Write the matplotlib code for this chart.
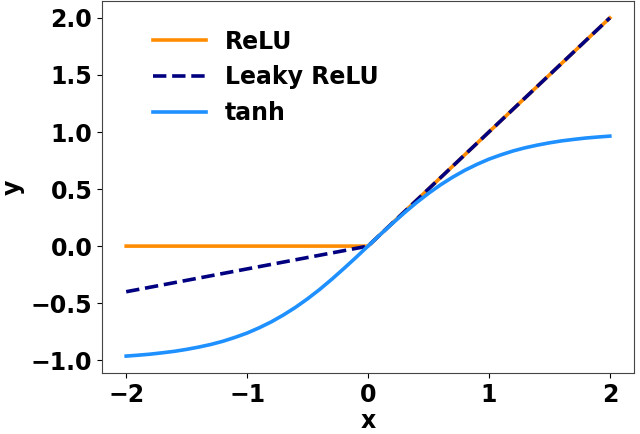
import numpy as np
from matplotlib import pyplot as plt

# ReLU and Leaky ReLU are straight pieces, so the corner points are enough
relu_x = [-2, 0, 2]
relu_y = [0, 0, 2]
leaky_x = [-2, 0, 2]
leaky_y = [-0.4, 0, 2]

# tanh every 0.1
tanh_x = [-2.0, -1.9, -1.8, -1.7, -1.6, -1.5, -1.4, -1.3, -1.2, -1.1,
          -1.0, -0.9, -0.8, -0.7, -0.6, -0.5, -0.4, -0.3, -0.2, -0.1,
          0.0, 0.1, 0.2, 0.3, 0.4, 0.5, 0.6, 0.7, 0.8, 0.9,
          1.0, 1.1, 1.2, 1.3, 1.4, 1.5, 1.6, 1.7, 1.8, 1.9, 2.0]
tanh_y = [-0.964, -0.956, -0.947, -0.935, -0.922, -0.905, -0.885, -0.862, -0.834, -0.800,
          -0.762, -0.716, -0.664, -0.604, -0.537, -0.462, -0.380, -0.291, -0.197, -0.100,
          0.0, 0.100, 0.197, 0.291, 0.380, 0.462, 0.537, 0.604, 0.664, 0.716,
          0.762, 0.800, 0.834, 0.862, 0.885, 0.905, 0.922, 0.935, 0.947, 0.956, 0.964]

plt.rcParams['font.family'] = ['DejaVu Sans']
plt.rcParams['font.weight'] = 'bold'
plt.rcParams['axes.labelweight'] = 'bold'

fig = plt.figure(figsize=(6.4, 4.34), dpi=100)
ax = fig.add_axes([102 / 640, 1 - 373 / 434, 532 / 640, 372 / 434])

ax.plot(relu_x, relu_y, color='darkorange', lw=2.6, label='ReLU')
ax.plot(leaky_x, leaky_y, color='navy', lw=2.6, ls='--', label='Leaky ReLU')
ax.plot(tanh_x, tanh_y, color='dodgerblue', lw=2.6, label='tanh')

ax.set_xlabel('x', fontsize=17, labelpad=2)
ax.set_ylabel('y', fontsize=17)
ax.set_xticks([-2, -1, 0, 1, 2])
ax.set_yticks([-1.0, -0.5, 0.0, 0.5, 1.0, 1.5, 2.0])
ax.tick_params(labelsize=17)
for s in ax.spines.values():
    s.set_color('#444444')

ax.legend(loc='upper left', bbox_to_anchor=(0.055, 0.98), frameon=False,
          fontsize=17, handlelength=2.25, labelspacing=0.5)

plt.savefig('out.png', dpi=100)
